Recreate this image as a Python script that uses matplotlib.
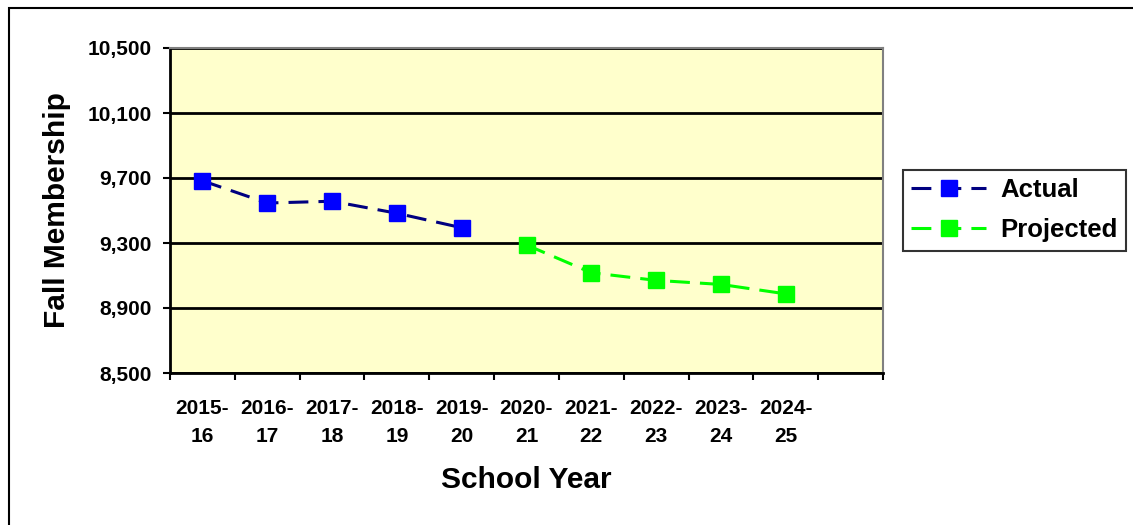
import matplotlib
matplotlib.use("Agg")
import matplotlib.pyplot as plt
from matplotlib.patches import Rectangle
from matplotlib.ticker import FuncFormatter, FixedLocator

plt.rcParams['font.family'] = ['Liberation Sans', 'DejaVu Sans']
plt.rcParams['font.weight'] = 'bold'

years = ["2015-\n16", "2016-\n17", "2017-\n18", "2018-\n19", "2019-\n20",
         "2020-\n21", "2021-\n22", "2022-\n23", "2023-\n24", "2024-\n25"]
actual = [9683, 9546, 9557, 9483, 9394]
projected = [9288, 9117, 9070, 9045, 8987]
y_ticks = [8500, 8900, 9300, 9700, 10100, 10500]

fig = plt.figure(figsize=(11.33, 5.25), dpi=100)
ax = fig.add_axes([170 / 1133, 1 - 373 / 525, 713 / 1133, 325 / 525])
ax.set_facecolor('#FFFFCC')

# outer chart frame
fig.patches.append(Rectangle((9 / 1133, -0.05), 1.2, 1 - 8 / 525 + 0.05,
                             transform=fig.transFigure, fill=False,
                             edgecolor='black', linewidth=1.5))

dash = (0, (6.5, 3.3))
xa = list(range(len(actual)))
xp = list(range(len(actual), len(actual) + len(projected)))
ax.plot(xa, actual, linestyle=dash, color='#000080', linewidth=2.2,
        marker='s', markersize=11, markerfacecolor='#0000FF',
        markeredgecolor='#0000FF', label='Actual', zorder=4)
ax.plot(xp, projected, linestyle=dash, color='#00FF00', linewidth=2.2,
        marker='s', markersize=11, markerfacecolor='#00FF00',
        markeredgecolor='#00FF00', label='Projected', zorder=4)

n_slots = len(years) + 1
ax.set_xlim(-0.5, n_slots - 0.5)
ax.set_ylim(y_ticks[0], y_ticks[-1])

ax.xaxis.set_major_locator(FixedLocator([i - 0.5 for i in range(n_slots + 1)]))
ax.xaxis.set_minor_locator(FixedLocator(list(range(len(years)))))
ax.set_xticklabels([''] * (n_slots + 1))
ax.set_xticklabels(years, minor=True, fontsize=15, fontweight='bold',
                   linespacing=1.6)
ax.tick_params(axis='x', which='major', direction='out', length=5, width=1.5)
ax.tick_params(axis='x', which='minor', length=0, pad=19)

ax.set_yticks(y_ticks)
ax.yaxis.set_major_formatter(FuncFormatter(lambda v, p: f"{int(v):,}"))
ax.tick_params(axis='y', direction='out', length=5, width=1.5, labelsize=15, pad=8)
for lab in ax.get_yticklabels():
    lab.set_fontweight('bold')

ax.grid(axis='y', color='black', linewidth=2)
ax.set_axisbelow(True)

ax.spines['left'].set_linewidth(2)
ax.spines['bottom'].set_linewidth(2)
ax.spines['top'].set_color('#808080')
ax.spines['right'].set_color('#808080')
ax.spines['top'].set_linewidth(1.5)
ax.spines['right'].set_linewidth(1.5)

ax.set_ylabel('Fall Membership', fontsize=21.5, fontweight='bold')
ax.yaxis.label.set_va('center')
ax.yaxis.set_label_coords(-0.158, 0.5)
ax.set_xlabel('School Year', fontsize=21.5, fontweight='bold')
ax.xaxis.label.set_va('baseline')
ax.xaxis.set_label_coords(0.5, -0.354)

leg = fig.legend(loc='upper left', bbox_to_anchor=(903 / 1133, 1 - 170 / 525),
                 fontsize=18.5, frameon=True, fancybox=False, edgecolor='black',
                 handlelength=2.9, borderpad=0.33, labelspacing=0.62,
                 handletextpad=0.55, borderaxespad=0)
leg.get_frame().set_linewidth(1.5)
for t in leg.get_texts():
    t.set_fontweight('bold')

fig.savefig('out.png', dpi=100)
